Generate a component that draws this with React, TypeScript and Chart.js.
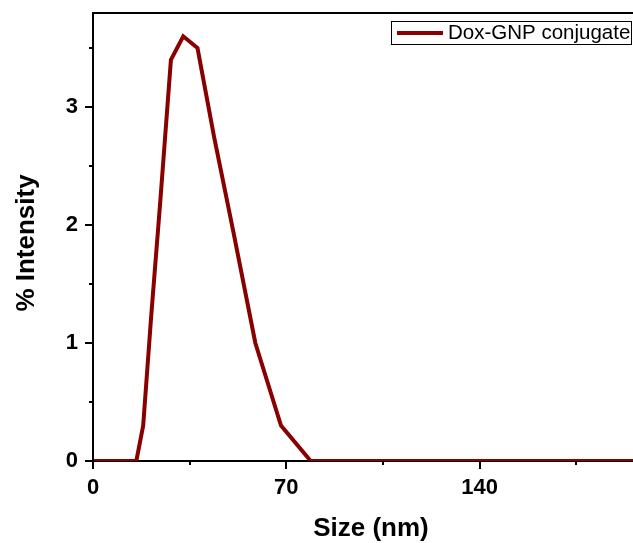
import React, { useEffect, useRef } from "react";
import { Chart, registerables } from "chart.js";

Chart.register(...registerables);

const sizes = [0.4, 1.117, 2.01, 3.615, 5.615, 8.721, 11.7, 13.54, 15.69, 18.17, 21.04, 24.36, 28.21, 32.67, 37.84, 43.82, 50.75, 58.77, 68.06, 78.82, 91.28, 105.7, 122.4, 141.8, 164.2, 190.1, 220.2];
const intensity = [0, 0, 0, 0, 0, 0, 0, 0, 0, 0.3, 1.22, 2.2, 3.4, 3.6, 3.5, 2.75, 1.95, 1.0, 0.3, 0, 0, 0, 0, 0, 0, 0, 0];
const seriesName = "Dox-GNP conjugate";
const xMajorTicks = [0, 70, 140];
const xMinorTicks = [35, 105, 175];
const yMajorTicks = [0, 1, 2, 3];
const yMinorTicks = [0.5, 1.5, 2.5, 3.5];
const xTitle = "Size (nm)";
const yTitle = "% Intensity";

const FONT = "'Liberation Sans', Arial, sans-serif";
const LINE_COLOR = "#880000";

const decorPlugin = {
  id: "decor",
  afterDatasetsDraw(chart: any) {
    const { ctx, chartArea, scales } = chart;
    const xs = scales.x;
    const ys = scales.y;
    ctx.save();
    ctx.strokeStyle = "#000";
    ctx.lineWidth = 2;
    // top border
    ctx.beginPath();
    ctx.moveTo(chartArea.left - 1, chartArea.top);
    ctx.lineTo(chartArea.right, chartArea.top);
    ctx.stroke();
    // ticks
    ctx.lineWidth = 2;
    const drawX = (v: number, len: number) => {
      const px = Math.round(xs.getPixelForValue(v));
      ctx.beginPath();
      ctx.moveTo(px, chartArea.bottom);
      ctx.lineTo(px, chartArea.bottom + len);
      ctx.stroke();
    };
    xMajorTicks.forEach((v) => drawX(v, 8));
    xMinorTicks.forEach((v) => drawX(v, 4));
    const drawY = (v: number, len: number) => {
      const py = Math.round(ys.getPixelForValue(v));
      ctx.beginPath();
      ctx.moveTo(chartArea.left, py);
      ctx.lineTo(chartArea.left - len, py);
      ctx.stroke();
    };
    yMajorTicks.forEach((v) => drawY(v, 8));
    yMinorTicks.forEach((v) => drawY(v, 4));

    // axis titles
    ctx.fillStyle = "#000";
    ctx.font = `bold 26px ${FONT}`;
    ctx.textAlign = "center";
    ctx.textBaseline = "middle";
    ctx.fillText(xTitle, 371, 529);
    ctx.save();
    ctx.translate(27, 243);
    ctx.rotate(-Math.PI / 2);
    ctx.fillText(yTitle, 0, 0);
    ctx.restore();

    // legend
    const bx = 391.5, by = 21.5, bw = 240, bh = 23;
    ctx.fillStyle = "#fff";
    ctx.fillRect(bx, by, bw, bh);
    ctx.lineWidth = 1;
    ctx.strokeStyle = "#000";
    ctx.strokeRect(bx, by, bw, bh);
    ctx.strokeStyle = LINE_COLOR;
    ctx.lineWidth = 4;
    ctx.beginPath();
    ctx.moveTo(397, 33);
    ctx.lineTo(443, 33);
    ctx.stroke();
    ctx.fillStyle = "#000";
    ctx.font = `20.5px ${FONT}`;
    ctx.textAlign = "left";
    ctx.textBaseline = "middle";
    ctx.fillText(seriesName, 448, 33);
    ctx.restore();
  },
};

export default function App() {
  const ref = useRef<HTMLCanvasElement | null>(null);
  useEffect(() => {
    if (!ref.current) return;
    const chart = new Chart(ref.current, {
      type: "line",
      data: {
        datasets: [
          {
            label: seriesName,
            data: sizes.map((s, i) => ({ x: s, y: intensity[i] })),
            borderColor: LINE_COLOR,
            borderWidth: 4,
            pointRadius: 0,
            tension: 0,
            fill: false,
            borderJoinStyle: "miter",
          },
        ],
      },
      options: {
        animation: false,
        responsive: false,
        devicePixelRatio: 1,
        layout: { padding: { top: 13, left: 0, right: 0, bottom: 0 } },
        plugins: { legend: { display: false }, tooltip: { enabled: false } },
        scales: {
          x: {
            type: "linear",
            min: 0,
            max: 195.5,
            grid: { display: false },
            border: { display: true, color: "#000", width: 2 },
            afterFit: (s: any) => {
              s.height = 82;
              s.paddingLeft = 0;
              s.paddingRight = 0;
            },
            afterBuildTicks: (s: any) => {
              s.ticks = xMajorTicks.map((v) => ({ value: v }));
            },
            ticks: {
              padding: 6,
              color: "#000",
              font: { family: FONT, size: 22, weight: "bold" },
              maxRotation: 0,
              autoSkip: false,
              includeBounds: false,
            },
          },
          y: {
            type: "linear",
            min: 0,
            max: 3.797,
            grid: { display: false },
            border: { display: true, color: "#000", width: 2 },
            afterFit: (s: any) => {
              s.width = 93;
              s.paddingTop = 0;
              s.paddingBottom = 0;
            },
            afterBuildTicks: (s: any) => {
              s.ticks = yMajorTicks.map((v) => ({ value: v }));
            },
            ticks: {
              padding: 7,
              color: "#000",
              font: { family: FONT, size: 22, weight: "bold" },
              autoSkip: false,
              includeBounds: false,
            },
          },
        },
      },
      plugins: [decorPlugin],
    } as any);
    return () => chart.destroy();
  }, []);
  return (
    <div style={{ position: "absolute", left: 0, top: 0, width: 633, height: 543, background: "#fff" }}>
      <canvas ref={ref} width={633} height={543} style={{ display: "block", width: 633, height: 543 }} />
    </div>
  );
}
